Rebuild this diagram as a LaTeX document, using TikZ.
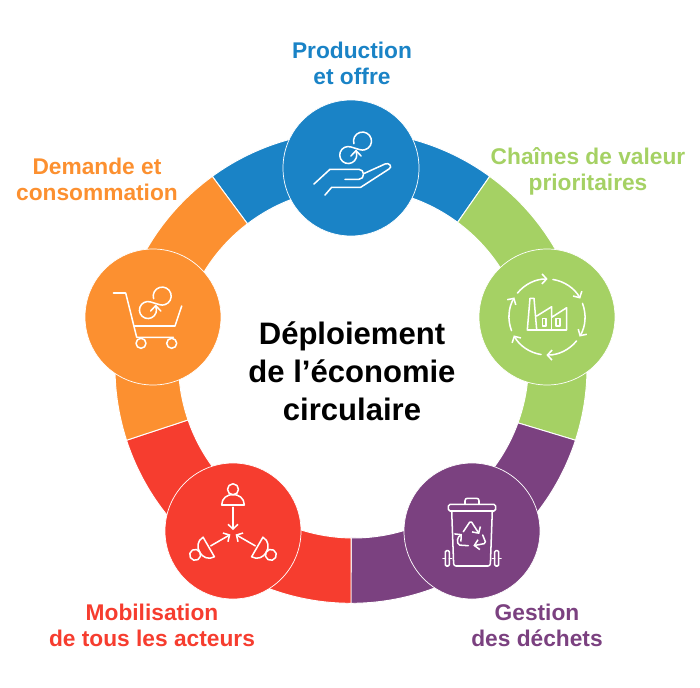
\documentclass[tikz,border=0pt]{standalone}
\usepackage{fontspec}
\setmainfont{Liberation Sans}
\usetikzlibrary{arrows.meta}
\definecolor{cprod}{HTML}{1A83C6}
\definecolor{cval}{HTML}{A5D164}
\definecolor{cdech}{HTML}{7B4180}
\definecolor{cacteur}{HTML}{F63D2F}
\definecolor{cdem}{HTML}{FC9030}
% petite boucle de l'icone production / demande
\newcommand{\boucle}{
	\draw (-1.4,4.6) arc (197:-107:9) -- (-4.3,1.3) arc (71:379:8.5) -- (0.7,-2.3);
	\draw (-4.4,-7.7) -- (0.7,-2.3) -- (5.8,-7.7);
}
\begin{document}
\begin{tikzpicture}[x=0.03cm, y=0.03cm, >={Straight Barb[length=1.4mm,width=3mm]}]
	\tikzset{
	    disque/.style= {circle, draw=white, line width=0.6pt, minimum size=4.08cm, inner sep=0pt},
	    titre/.style= {align=center, font=\fontsize{19.4}{22.2}\selectfont\bfseries},
	    icone/.style= {draw=white, line width=1.3pt, line cap=round, line join=round},
	}
	\useasboundingbox (0,0) rectangle (700,687);
	\coordinate (ringout) at (351,319.7);
	\coordinate (ringin) at (353.5,324);
	
	% angles du bord exterieur, puis du bord interieur
	\foreach \a/\b/\ia/\ib/\col in {54/126/53.5/127.3/cprod, -18/54/-20/53.5/cval, -90/-18/-90.8/-20/cdech, -162/-90/-161/-90.8/cacteur, -234/-162/-232.7/-161/cdem}
		\filldraw[fill=\col, draw=white, line width=0.8pt] ([shift={(\a:236)}]ringout) arc (\a:\b:236) -- ([shift={(\ib:175)}]ringin) arc (\ib:\ia:175) -- cycle;
	
	\node[disque, fill=cprod] (nprod) at (351,519) {};
	\node[disque, fill=cval] (nval) at (547,370) {};
	\node[disque, fill=cdech] (ndech) at (472,156) {};
	\node[disque, fill=cacteur] (nacteur) at (233,156) {};
	\node[disque, fill=cdem] (ndem) at (153,370) {};
	
	\node[titre, text=cprod] (tprod) at (352,624) {Production\\et offre};
	\node[titre, text=cval] (tval) at (588,516) {Chaînes de valeur\\prioritaires};
	\node[titre, text=cdech] (tdech) at (537,62) {Gestion\\des déchets};
	\node[titre, text=cacteur] (tacteur) at (152,62) {Mobilisation\\de tous les acteurs};
	\node[titre, text=cdem] (tdem) at (97,508) {Demande et\\consommation};
	\node[align=center, font=\fontsize{26.5}{32.4}\selectfont\bfseries] (tcentre) at (352,316) {Déploiement\\de l’économie\\circulaire};
	
	% main et boucle
	\begin{scope}[shift={(nprod)}, icone]
		\draw (-37,-16) -- (-21,-1.3) -- (8,-1.3) .. controls (14,-1.3) and (14,-11.3) .. (8,-11.3) -- (-6,-11.3);
		\draw (13,-5.5) -- (34,4) .. controls (38,6) and (42,1) .. (38,-1) -- (9.7,-19.3) -- (-19.3,-19.3) -- (-26,-27);
		\begin{scope}[shift={(4.3,19.7)}]
			\boucle
		\end{scope}
	\end{scope}
	
	% usine et fleches
	\begin{scope}[shift={(nval)}, icone]
		\foreach \s in {141,81,21,-39,-99,-159}
			\draw[->] (\s:38) arc (\s:\s-52:38);
		\draw (-10.3,-13) -- (-19.7,-13) -- (-17,18.7) -- (-13,18.7) -- (-10.3,-13) -- (19.7,-13) -- (19.7,9.3) -- (4.7,-0.3) -- (4.7,10.3) -- (-10.3,1);
		\draw (4.7,-0.3) -- (4.7,-13);
		\draw (-4.3,-1.3) rectangle (-1,-9);
		\draw (9,-1.3) rectangle (13,-9);
	\end{scope}
	
	% poubelle
	\begin{scope}[shift={(ndech)}, icone]
		\draw[rounded corners=1.5pt] (-23.7,20) rectangle (23.7,26.7);
		\draw[rounded corners=2pt] (-7,26.7) -- (-7,32.7) -- (7,32.7) -- (7,26.7);
		\draw[rounded corners=2pt] (-20.3,20) -- (-18.3,-35) -- (18.3,-35) -- (20.3,20);
		\foreach \sgn in {-1,1} {
			\draw[rounded corners=1pt] (\sgn*22.7,-19.7) rectangle (\sgn*26.7,-35);
			\draw (\sgn*20.3,-27.3) -- (\sgn*22.7,-27.3);
			\draw (\sgn*26.7,-27.3) -- (\sgn*29,-27.3);
		}
		\draw[->, rounded corners=1.5pt] (-8.7,-0.7) -- (-1.3,10.3) -- (7.3,-3);
		\draw[->, rounded corners=1.5pt] (10.7,-4) -- (14,-12.3) -- (1.3,-14.7);
		\draw[->, rounded corners=1.5pt] (-3.7,-14.7) -- (-14,-14) -- (-14.7,-7) -- (-10,-3);
	\end{scope}
	
	% trois personnes
	\begin{scope}[shift={(nacteur)}, icone]
		\foreach \r in {0,120,240} {
			\begin{scope}[shift={(0,-2)}, rotate=\r]
				\draw (0,43.7) circle (5.5);
				\draw (-11.3,28) .. controls (-11.3,42) and (11.3,42) .. (11.3,28) -- cycle;
				\draw[->] (0,25.7) -- (0,3);
			\end{scope}
		}
	\end{scope}
	
	% chariot et boucle
	\begin{scope}[shift={(ndem)}, icone]
		\draw (-39.7,24) -- (-27.3,24) -- (-16.3,-20.3) -- (20.3,-20.3);
		\draw (-18.7,-9) -- (22,-9) -- (28.7,11);
		\draw (-12,-26.3) circle (5);
		\draw (18.7,-26.3) circle (5);
		\begin{scope}[shift={(2,13.7)}]
			\boucle
		\end{scope}
	\end{scope}
\end{tikzpicture}
\end{document}
